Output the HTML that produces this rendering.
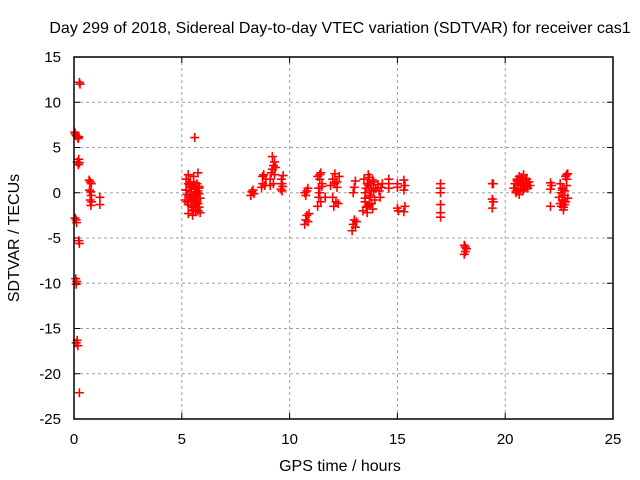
<!DOCTYPE html>
<html><head><meta charset="utf-8"><style>
body{margin:0;background:#fff}
svg{display:block;font-family:"Liberation Sans",sans-serif}
</style></head><body>
<svg id="chart" width="640" height="480">
<text x="340" y="33" font-size="16" text-anchor="middle" fill="#000">Day 299 of 2018, Sidereal Day-to-day VTEC variation (SDTVAR) for receiver cas1</text>
<text x="340" y="471" font-size="16" text-anchor="middle">GPS time / hours</text>
<text transform="translate(19,238) rotate(-90)" font-size="16" text-anchor="middle">SDTVAR / TECUs</text>
<g id="grid"></g><g id="ticks"></g><g id="points"></g>
<rect x="74" y="57" width="539" height="362" fill="none" stroke="#000" stroke-width="1.5"/>
</svg>
<script>
const xTicks=[0,5,10,15,20,25];
const yTicks=[15,10,5,0,-5,-10,-15,-20,-25];
const hours=[0.03,0.06,0.1,0.2,0.22,0.18,0.25,0.28,0.22,0.15,0.2,0.25,0.05,0.1,0.12,0.22,0.25,0.08,0.12,0.1,0.15,0.1,0.18,0.25,
0.7,0.75,0.8,0.72,0.78,0.8,0.75,0.82,0.78,1.2,1.2,
5.15,5.2,5.25,5.3,5.35,5.4,5.45,5.5,5.55,5.6,5.65,5.7,5.75,5.8,5.85,5.2,5.3,5.4,5.5,5.6,5.7,5.8,5.25,5.35,5.45,5.55,5.65,5.75,5.85,5.3,5.4,5.5,5.6,5.7,5.8,5.45,5.55,5.65,5.75,5.5,5.6,5.7,5.8,5.55,5.65,5.2,5.3,5.75,5.6,
8.2,8.25,8.3,8.35,8.7,8.75,8.8,8.85,8.9,8.75,9.1,9.15,9.2,9.25,9.3,9.35,9.2,9.3,9.25,9.1,9.6,9.65,9.7,9.62,9.68,9.65,
10.7,10.75,10.8,10.85,10.9,10.75,10.8,10.85,10.7,11.3,11.35,11.4,11.45,11.5,11.35,11.4,11.45,11.3,11.4,11.5,11.65,11.9,12.0,12.1,12.2,12.3,12.05,12.15,12.0,12.1,12.2,12.25,
12.9,12.95,13.0,13.05,13.1,12.95,13.05,13.0,13.4,13.45,13.5,13.55,13.6,13.65,13.7,13.75,13.8,13.85,13.9,13.95,14.0,13.5,13.6,13.7,13.8,13.9,13.55,13.65,13.75,13.85,13.5,13.6,13.7,14.1,14.15,14.2,14.25,14.3,14.6,14.6,14.6,15.0,15.0,15.0,15.05,15.3,15.3,15.35,15.3,15.35,
17.0,17.0,17.0,17.0,17.0,17.0,18.1,18.15,18.2,18.15,18.1,19.4,19.45,19.4,19.45,19.4,
20.4,20.45,20.5,20.55,20.6,20.65,20.7,20.75,20.8,20.85,20.9,20.95,21.0,21.05,21.1,21.15,20.5,20.6,20.7,20.8,20.9,21.0,20.55,20.65,20.75,20.85,20.95,20.6,20.8,21.0,
22.1,22.1,22.15,22.1,22.5,22.55,22.6,22.65,22.7,22.75,22.8,22.85,22.9,22.55,22.65,22.75,22.85,22.6,22.7,22.8,22.9,22.65,22.75,22.85];
const values=[6.7,6.5,6.3,6.0,6.2,6.1,12.2,12.0,3.7,3.4,3.1,3.3,-2.8,-3.0,-3.3,-5.3,-5.6,-9.5,-9.8,-10.1,-16.3,-16.6,-16.9,-22.1,
1.4,1.2,1.0,0.3,0.1,-0.3,-0.8,-1.0,-1.4,-0.5,-1.3,
-0.8,1.5,-1.0,2.0,-0.5,1.2,-1.5,0.8,-2.0,0.5,-1.8,1.0,-1.2,0.7,-0.6,0.3,-2.3,0.1,-2.5,-0.4,-1.0,0.5,-0.2,0.9,-0.9,1.8,-1.4,0.2,-2.2,-1.3,-0.3,-0.7,-1.1,0.0,-1.6,0.6,1.2,-0.1,-2.0,-1.9,0.4,-0.8,-0.1,-1.6,-2.1,0.3,1.0,2.2,6.1,
-0.3,0.1,0.3,-0.1,0.6,1.0,2.0,0.8,1.5,1.8,1.5,2.2,2.6,3.0,3.4,2.8,4.0,2.0,1.0,0.8,0.4,1.0,1.9,1.5,0.7,0.2,
-3.5,-3.0,-2.5,-3.2,-2.3,-0.3,0.2,0.5,0.0,-1.5,0.5,1.5,2.2,1.0,-0.5,0.0,-1.0,1.8,2.0,0.7,-0.5,0.8,1.5,2.1,1.2,1.8,-1.5,-1.0,-0.5,1.0,0.6,-1.2,
-4.2,-3.5,-3.0,-3.8,-3.2,0.0,1.3,0.6,-2.0,1.5,-1.0,0.5,-1.5,2.0,-0.5,1.0,0.2,-1.8,1.2,-0.8,0.5,0.0,-2.2,1.7,-1.2,0.3,-1.6,0.8,-0.3,1.4,-0.6,1.0,-1.3,0.9,0.2,-0.5,0.6,1.0,1.5,1.0,0.5,1.0,0.6,-1.7,-2.0,1.4,0.3,-1.5,-2.1,0.8,
1.0,0.5,0.0,-1.3,-2.2,-2.7,-5.8,-6.0,-6.2,-6.5,-6.8,1.0,1.0,-0.7,-1.0,-1.7,
0.5,1.0,0.2,1.5,0.8,1.8,0.4,1.2,0.9,2.0,0.6,1.4,1.0,0.5,1.2,0.8,0.0,0.3,1.6,0.2,1.1,0.7,1.3,-0.2,1.7,0.4,1.5,1.0,1.2,1.5,
1.1,0.4,0.8,-1.5,-0.5,1.0,-1.5,0.5,-1.9,0.2,-1.0,1.5,2.1,-1.2,-0.8,-0.3,0.8,0.0,-1.6,1.8,-0.6,0.3,-1.3,2.0];
const X0=74,X1=613,Y0=419,Y1=57;
function xs(v){return X0+(v-0)/25*(X1-X0);}
function ys(v){return Y0-(v+25)/40*(Y0-Y1);}
const NS="http://www.w3.org/2000/svg";
const grid=document.getElementById('grid'),ticks=document.getElementById('ticks'),pts=document.getElementById('points');
function mk(tag,attrs,parent){const e=document.createElementNS(NS,tag);for(const k in attrs)e.setAttribute(k,attrs[k]);parent.appendChild(e);return e;}
xTicks.forEach(t=>{const x=xs(t);
 if(t>0&&t<25){const g=mk('line',{x1:x,x2:x,y1:Y0,y2:Y1,stroke:'#a0a0a0','stroke-dasharray':'3,3'},grid);
 
 }
 mk('line',{x1:x,x2:x,y1:Y0,y2:Y0-6,stroke:'#000'},ticks);mk('line',{x1:x,x2:x,y1:Y1,y2:Y1+6,stroke:'#000'},ticks);
 const l=mk('text',{x:x,y:444,'font-size':15,'text-anchor':'middle'},ticks);l.textContent=t;
 
 });
yTicks.forEach(t=>{const y=ys(t);
 if(t>-25&&t<15){const g=mk('line',{x1:X0,x2:X1,y1:y,y2:y,stroke:'#a0a0a0','stroke-dasharray':'3,3'},grid);
 
 }
 mk('line',{x1:X0,x2:X0+6,y1:y,y2:y,stroke:'#000'},ticks);mk('line',{x1:X1,x2:X1-6,y1:y,y2:y,stroke:'#000'},ticks);
 const l=mk('text',{x:61,y:y+5,'font-size':15,'text-anchor':'end'},ticks);l.textContent=t;
 
 });
hours.forEach((h,i)=>{const x=xs(h),y=ys(values[i]);
 const p=mk('path',{d:`M${x-4.5},${y}H${x+4.5}M${x},${y-4.5}V${y+4.5}`,stroke:'#ff0000','stroke-width':1.6},pts);
 
 });
</script>
</body></html>
